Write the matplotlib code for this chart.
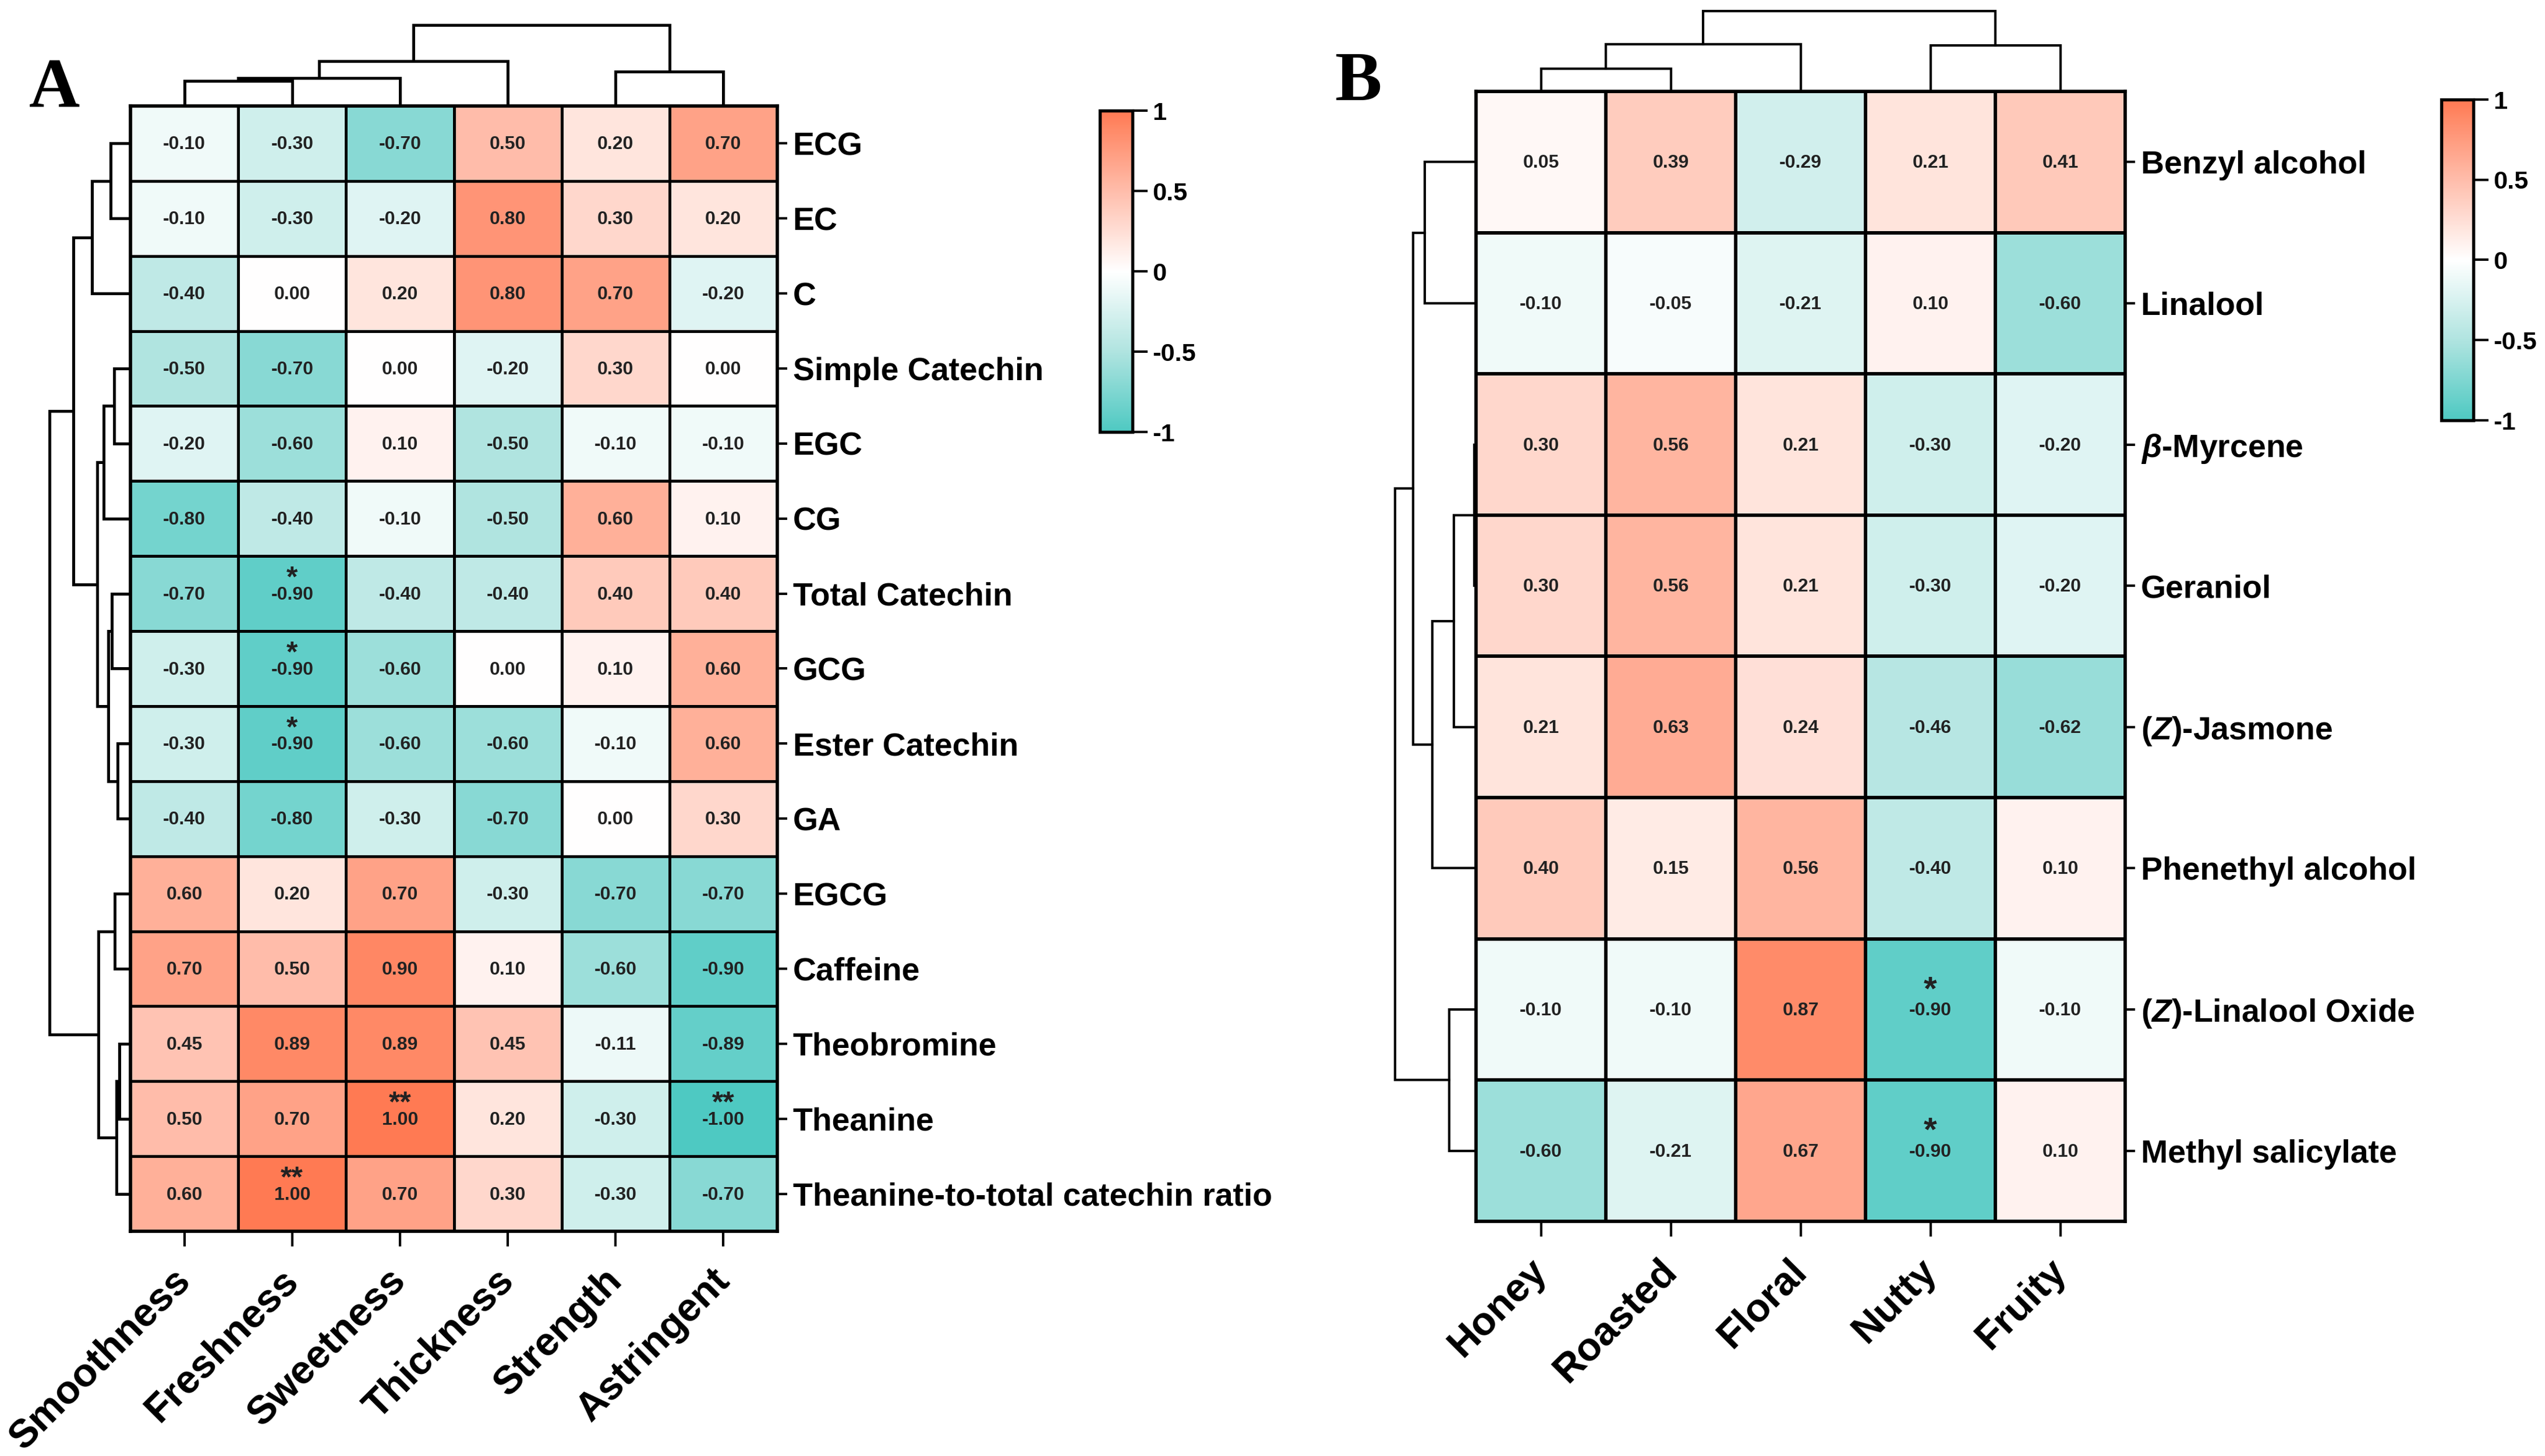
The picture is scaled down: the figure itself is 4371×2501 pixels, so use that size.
import numpy as np
import matplotlib
matplotlib.use("Agg")
import matplotlib.pyplot as plt
from matplotlib.colors import LinearSegmentedColormap, Normalize
from matplotlib.cm import ScalarMappable
from matplotlib.transforms import ScaledTranslation

W, H, DPI = 4371, 2501, 300
plt.rcParams['font.family'] = ['Liberation Sans', 'DejaVu Sans']
plt.rcParams['font.weight'] = 'bold'
plt.rcParams['mathtext.fontset'] = 'custom'
plt.rcParams['mathtext.bf'] = 'Liberation Sans:bold'
plt.rcParams['mathtext.bfit'] = 'Liberation Sans:italic:bold'
plt.rcParams['mathtext.it'] = 'Liberation Sans:italic:bold'
plt.rcParams['mathtext.rm'] = 'Liberation Sans:bold'

# ---------- data ----------
tastes = ['Smoothness', 'Freshness', 'Sweetness', 'Thickness', 'Strength', 'Astringent']
compounds = ['ECG', 'EC', 'C', 'Simple Catechin', 'EGC', 'CG', 'Total Catechin', 'GCG',
             'Ester Catechin', 'GA', 'EGCG', 'Caffeine', 'Theobromine', 'Theanine',
             'Theanine-to-total catechin ratio']
values_a = [
    [-0.10, -0.30, -0.70, 0.50, 0.20, 0.70],
    [-0.10, -0.30, -0.20, 0.80, 0.30, 0.20],
    [-0.40, 0.00, 0.20, 0.80, 0.70, -0.20],
    [-0.50, -0.70, 0.00, -0.20, 0.30, 0.00],
    [-0.20, -0.60, 0.10, -0.50, -0.10, -0.10],
    [-0.80, -0.40, -0.10, -0.50, 0.60, 0.10],
    [-0.70, -0.90, -0.40, -0.40, 0.40, 0.40],
    [-0.30, -0.90, -0.60, 0.00, 0.10, 0.60],
    [-0.30, -0.90, -0.60, -0.60, -0.10, 0.60],
    [-0.40, -0.80, -0.30, -0.70, 0.00, 0.30],
    [0.60, 0.20, 0.70, -0.30, -0.70, -0.70],
    [0.70, 0.50, 0.90, 0.10, -0.60, -0.90],
    [0.45, 0.89, 0.89, 0.45, -0.11, -0.89],
    [0.50, 0.70, 1.00, 0.20, -0.30, -1.00],
    [0.60, 1.00, 0.70, 0.30, -0.30, -0.70],
]
stars_a = {(6, 1): '*', (7, 1): '*', (8, 1): '*', (13, 2): '**', (13, 5): '**', (14, 1): '**'}

aromas = ['Honey', 'Roasted', 'Floral', 'Nutty', 'Fruity']
volatiles = ['Benzyl alcohol', 'Linalool', r'$\mathbfit{\beta}$-Myrcene', 'Geraniol',
             r'($\mathbfit{Z}$)-Jasmone', 'Phenethyl alcohol',
             r'($\mathbfit{Z}$)-Linalool Oxide', 'Methyl salicylate']
values_b = [
    [0.05, 0.39, -0.29, 0.21, 0.41],
    [-0.10, -0.05, -0.21, 0.10, -0.60],
    [0.30, 0.56, 0.21, -0.30, -0.20],
    [0.30, 0.56, 0.21, -0.30, -0.20],
    [0.21, 0.63, 0.24, -0.46, -0.62],
    [0.40, 0.15, 0.56, -0.40, 0.10],
    [-0.10, -0.10, 0.87, -0.90, -0.10],
    [-0.60, -0.21, 0.67, -0.90, 0.10],
]
stars_b = {(6, 3): '*', (7, 3): '*'}

# dendrograms: (child, child, merge height)
tree_a_top = ((((0, 1, 43), 2, 48), 3, 77), (4, 5, 59), 139)
tree_a_left = ((((0, 1, 34), 2, 66),
                (((3, 4, 28), 5, 46), ((6, 7, 32), (8, 9, 22), 38), 57), 98),
               ((10, 11, 27), ((12, 13, 19), 14, 24), 55), 139)
tree_b_top = (((0, 1, 39), 2, 81), (3, 4, 79), 138)
tree_b_left = (((0, 1, 88), (((2, 3, 3), 4, 38), 5, 75), 108), (6, 7, 46), 139)

cbar_ticks = [-1, -0.5, 0, 0.5, 1]
cmap = LinearSegmentedColormap.from_list(
    'tea', [(0, '#4EC9C2'), (0.25, '#B0E4E0'), (0.5, '#FFFFFF'), (0.75, '#FFBDAB'), (1, '#FF7A53')])
norm = Normalize(-1, 1)

fig = plt.figure(figsize=((W + 0.01) / DPI, (H + 0.01) / DPI), dpi=DPI, facecolor='white')


def ax_px(x0, y0, x1, y1):
    return fig.add_axes([x0 / W, 1 - y1 / H, (x1 - x0) / W, (y1 - y0) / H])


def draw_tree(ax, node, horizontal, lw):
    """Returns (leaf position, height) of node; draws its merge."""
    if not isinstance(node, tuple):
        return node + 0.5, 0
    a, b, h = node
    pa, ha = draw_tree(ax, a, horizontal, lw)
    pb, hb = draw_tree(ax, b, horizontal, lw)
    xs, ys = [pa, pa, pb, pb], [ha, h, h, hb]
    if horizontal:
        ax.plot(xs, ys, color='k', lw=lw, solid_joinstyle='miter', clip_on=False)
    else:
        ax.plot(ys, xs, color='k', lw=lw, solid_joinstyle='miter', clip_on=False)
    return (pa + pb) / 2, h


def panel(x0, y0, x1, y1, values, xlabels, ylabels, stars, top, left, letter, letter_xy,
          cb, star_size, star_dy, lw):
    v = np.array(values)
    nr, nc = v.shape
    ax = ax_px(x0, y0, x1, y1)
    ax.pcolormesh(np.arange(nc + 1), np.arange(nr + 1), v, cmap=cmap, norm=norm,
                  edgecolors='k', linewidth=lw)
    ax.set_xlim(0, nc)
    ax.set_ylim(nr, 0)
    for s in ax.spines.values():
        s.set_linewidth(1.35)
    ax.yaxis.tick_right()
    ax.set_yticks(np.arange(nr) + 0.5, ylabels, fontsize=13.3, fontweight='bold')
    ax.set_xticks(np.arange(nc) + 0.5, xlabels, fontsize=16.4, fontweight='bold',
                  rotation=45, ha='right', va='baseline', rotation_mode='anchor')
    ax.tick_params(axis='y', length=4, width=1.0, pad=2.4)
    ax.tick_params(axis='x', length=6.2, width=1.0, pad=14.9)
    shift = ScaledTranslation(13 / DPI, 0, fig.dpi_scale_trans)
    for lab in ax.get_xticklabels():
        lab.set_transform(lab.get_transform() + shift)
    ch = (y1 - y0) / nr
    for r in range(nr):
        for c in range(nc):
            ax.text(c + 0.5, r + 0.5 + 2 / ch, f'{v[r, c]:.2f}', ha='center', va='center',
                    fontsize=7.7, fontweight='bold', color='#222222')
    for (r, c), s in stars.items():
        ax.text(c + 0.5, r + 0.5 - star_dy / ch, s, ha='center', va='center_baseline',
                fontsize=star_size, fontweight='bold', color='#222222')
    # top dendrogram
    t = ax_px(x0, y0 - 150, x1, y0)
    t.set_xlim(0, nc)
    t.set_ylim(0, 150)
    t.axis('off')
    t.patch.set_alpha(0)
    draw_tree(t, top, True, lw)
    # left dendrogram
    l = ax_px(x0 - 150, y0, x0, y1)
    l.set_xlim(150, 0)
    l.set_ylim(nr, 0)
    l.axis('off')
    l.patch.set_alpha(0)
    draw_tree(l, left, False, lw)
    fig.text(letter_xy[0] / W, 1 - letter_xy[1] / H, letter, family='Liberation Serif',
             fontweight='bold', fontsize=29, ha='left', va='baseline', color='k')
    # colorbar
    cax = ax_px(*cb)
    cbar = fig.colorbar(ScalarMappable(norm=norm, cmap=cmap), cax=cax, ticks=cbar_ticks)
    cbar.ax.set_yticklabels(['-1', '-0.5', '0', '0.5', '1'], fontsize=10.4, fontweight='bold')
    cbar.ax.tick_params(length=6.2, width=1.0, pad=2)
    cbar.outline.set_linewidth(1.3)


panel(224, 182, 1335, 2115, values_a, tastes, compounds, stars_a, tree_a_top, tree_a_left,
      'A', (50, 183), (1889, 190, 1945, 742), 12, 30, 1.2)
panel(2535, 157, 3650, 2098, values_b, aromas, volatiles, stars_b, tree_b_top, tree_b_left,
      'B', (2293, 172), (4193, 171, 4248, 722), 14, 38, 1.0)

fig.savefig('out.png', dpi=DPI, facecolor='white')
